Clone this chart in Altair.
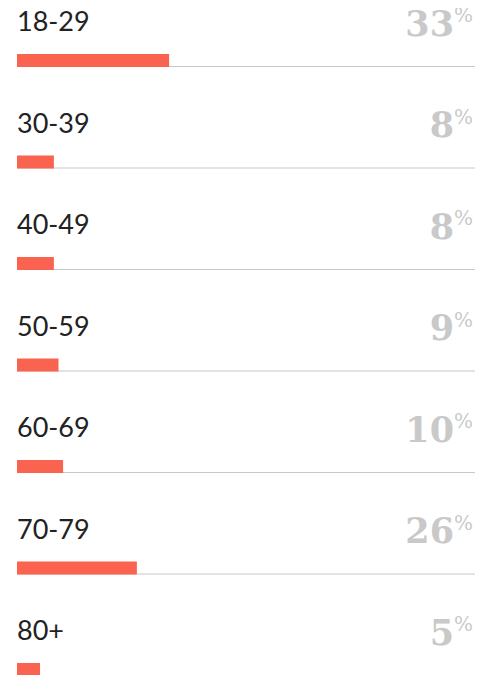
import altair as alt
import pandas as pd

groups = ["18-29", "30-39", "40-49", "50-59", "60-69", "70-79", "80+"]
shares = [33, 8, 8, 9, 10, 26, 5]

df = pd.DataFrame({
    "group": groups,
    "pct": shares,
    "row": list(range(len(groups))),
    "num": [str(v) for v in shares],
})

ROW_PX = 101.5
y_enc = alt.Y("row:Q", scale=alt.Scale(domain=[0, 1], range=[0, ROW_PX]), axis=None)
x_scale = alt.Scale(domain=[0, 100], range=[9, 470])

base = alt.Chart(df).encode(y=y_enc)

rules = base.mark_rule(color="#c8c8c8", strokeWidth=1, yOffset=58.5).encode(
    x=alt.value(9), x2=alt.value(467)
)

bars = base.transform_calculate(zero="0").mark_rect(
    color="#f9634f", yOffset=46, y2Offset=59
).encode(
    x=alt.X("zero:Q", scale=x_scale, axis=None),
    x2=alt.X2("pct:Q"),
    y2=alt.Y2("row:Q"),
)

labels = base.mark_text(
    align="left", baseline="alphabetic", dy=23, font="Lato", fontSize=27,
    color="#222222"
).encode(x=alt.value(9), text="group:N")

nums = base.mark_text(
    align="right", baseline="alphabetic", dy=27.5, font="DejaVu Serif",
    fontWeight="bold", fontSize=35, color="#c9c9c9"
).encode(x=alt.value(446), text="num:N")

pcts = base.mark_text(
    align="left", baseline="alphabetic", dy=14, font="DejaVu Serif",
    fontSize=20, color="#c9c9c9"
).encode(x=alt.value(446), text=alt.value("%"))

chart = alt.layer(rules, bars, labels, nums, pcts).properties(
    width=474, height=667, padding=0, autosize=alt.AutoSizeParams(type="none")
).configure_view(stroke=None)

chart.save("out.html", embed_options={"renderer": "svg", "actions": False})
